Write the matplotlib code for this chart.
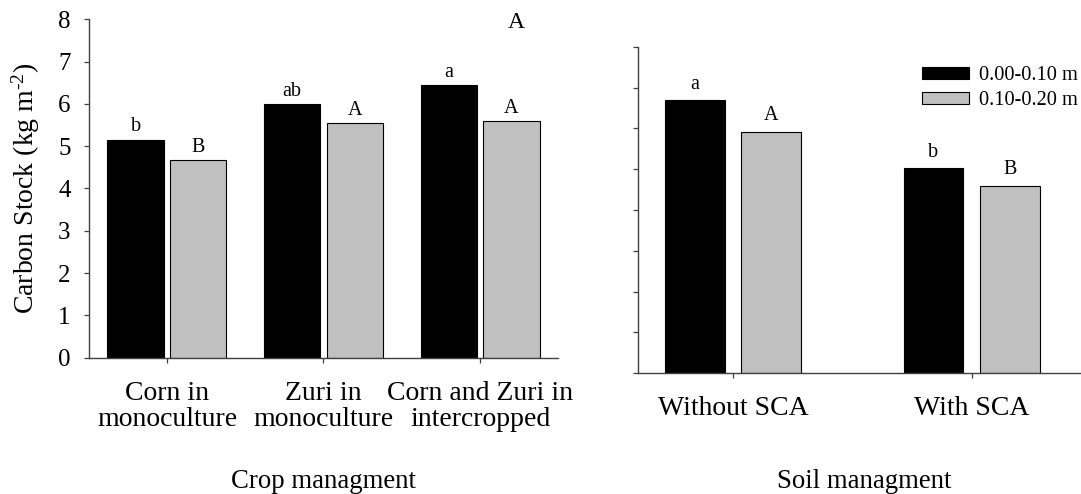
import matplotlib
matplotlib.use('Agg')
import matplotlib.pyplot as plt
from matplotlib.patches import Patch
import numpy as np

plt.rcParams.update({'font.family': 'Liberation Serif',
                     'mathtext.fontset': 'custom',
                     'mathtext.rm': 'Liberation Serif',
                     'mathtext.default': 'regular'})

# --- data ---
crop_labels = ['Corn in\nmonoculture', 'Zuri in\nmonoculture', 'Corn and Zuri in\nintercropped']
crop_top = [5.15, 5.99, 6.44]      # 0.00-0.10 m
crop_sub = [4.67, 5.54, 5.59]      # 0.10-0.20 m
crop_top_letters = ['b', 'ab', 'a']
crop_sub_letters = ['B', 'A', 'A']

soil_labels = ['Without SCA', 'With SCA']
soil_top = [6.69, 5.02]
soil_sub = [5.92, 4.60]
soil_top_letters = ['a', 'b']
soil_sub_letters = ['A', 'B']

depths = ['0.00-0.10 m', '0.10-0.20 m']
colors = ['black', '#c0c0c0']

W, H = 1081, 494
fig = plt.figure(figsize=(W / 100, H / 100), dpi=100)

# axes placed in pixel units
ax1 = fig.add_axes([88.7 / W, 1 - 357.7 / H, (558.3 - 88.7) / W, (357.7 - 19.3) / H])
ax2 = fig.add_axes([637.5 / W, 1 - 373.3 / H, (W - 637.5) / W, (373.3 - 46.7) / H])

spine_col = '#404040'


def style(ax):
    ax.spines['top'].set_visible(False)
    ax.spines['right'].set_visible(False)
    for s in ['left', 'bottom']:
        ax.spines[s].set_color(spine_col)
        ax.spines[s].set_linewidth(1.0)
    ax.tick_params(direction='out', length=3.6, width=0.9, color=spine_col)
    ax.tick_params(axis='x', pad=13, labelsize=20)
    ax.tick_params(axis='y', pad=9.5, labelsize=18)
    ax.set_ylim(0, 8)
    ax.set_yticks(range(0, 9))


# --- left: crop management ---
x1 = np.arange(len(crop_labels))
ax1.bar(x1 - 0.2, crop_top, 0.36, color=colors[0], edgecolor='black', linewidth=0.8)
ax1.bar(x1 + 0.2, crop_sub, 0.36, color=colors[1], edgecolor='black', linewidth=0.8)
for xi, v, t in zip(x1 - 0.2, crop_top, crop_top_letters):
    ax1.text(xi, v + 0.2, t, ha='center', va='baseline', fontsize=14.5)
for xi, v, t in zip(x1 + 0.2, crop_sub, crop_sub_letters):
    ax1.text(xi, v + 0.2, t, ha='center', va='baseline', fontsize=14.5)
style(ax1)
ax1.set_xlim(-0.5, 2.5)
ax1.set_xticks(x1)
ax1.set_xticklabels(crop_labels, linespacing=1.05)

# --- right: soil management ---
x2 = np.arange(len(soil_labels))
ax2.bar(x2 - 0.16, soil_top, 0.25, color=colors[0], edgecolor='black', linewidth=0.8)
ax2.bar(x2 + 0.16, soil_sub, 0.25, color=colors[1], edgecolor='black', linewidth=0.8)
for xi, v, t in zip(x2 - 0.16, soil_top, soil_top_letters):
    ax2.text(xi, v + 0.28, t, ha='center', va='baseline', fontsize=14.5)
for xi, v, t in zip(x2 + 0.16, soil_sub, soil_sub_letters):
    ax2.text(xi, v + 0.28, t, ha='center', va='baseline', fontsize=14.5)
style(ax2)
ax2.set_xlim(-0.4, 1.458)
ax2.set_xticks(x2)
ax2.set_xticklabels(soil_labels)
ax2.set_yticklabels([])

handles = [Patch(facecolor=c, edgecolor='black', linewidth=0.8) for c in colors]
fig.legend(handles, depths, loc='upper left', bbox_to_anchor=(921.7 / W, 1 - 66 / H),
           frameon=False, fontsize=14.7, handlelength=2.3, handleheight=0.5,
           handletextpad=0.5, labelspacing=0.3, borderpad=0, borderaxespad=0)

# titles / labels
fig.text(26 / W, 1 - 188 / H, 'Carbon Stock (kg m$^{\\text{-}2}$)', rotation=90,
         ha='center', va='center', fontsize=20)
fig.text(516.7 / W, 1 - 28.3 / H, 'A', ha='center', va='baseline', fontsize=17)
fig.text(323.5 / W, 1 - 488.3 / H, 'Crop managment', ha='center', va='baseline', fontsize=19.3)
fig.text(864 / W, 1 - 488.3 / H, 'Soil managment', ha='center', va='baseline', fontsize=19.3)

fig.savefig('out.png', dpi=100)
